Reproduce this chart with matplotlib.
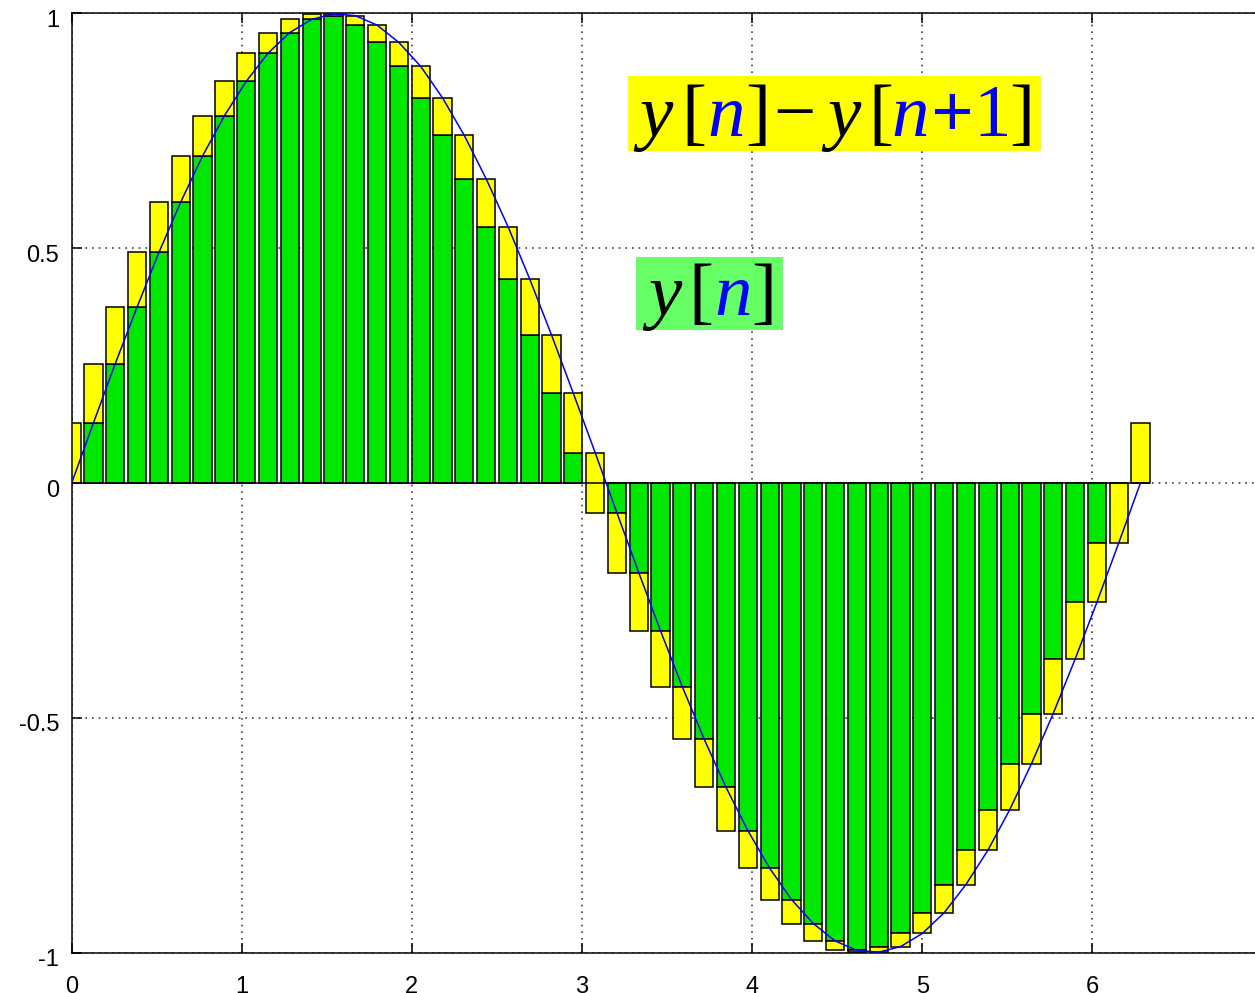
import matplotlib
matplotlib.use("Agg")
import matplotlib.pyplot as plt
from matplotlib.patches import Rectangle
from matplotlib.transforms import ScaledTranslation

# ---- data ----
x_samples = [0.000, 0.128, 0.256, 0.385, 0.513, 0.641, 0.769, 0.898, 1.026, 1.154,
             1.282, 1.411, 1.539, 1.667, 1.795, 1.923, 2.052, 2.180, 2.308, 2.436,
             2.565, 2.693, 2.821, 2.949, 3.078, 3.206, 3.334, 3.462, 3.590, 3.719,
             3.847, 3.975, 4.103, 4.232, 4.360, 4.488, 4.616, 4.744, 4.873, 5.001,
             5.129, 5.257, 5.386, 5.514, 5.642, 5.770, 5.899, 6.027, 6.155, 6.283]
# y[n] for n = 0..50 (last one is y[n+1] of the final sample)
y_samples = [0.000, 0.128, 0.254, 0.375, 0.491, 0.598, 0.696, 0.782, 0.855, 0.915,
             0.959, 0.987, 0.999, 0.995, 0.975, 0.938, 0.887, 0.820, 0.740, 0.648,
             0.546, 0.434, 0.315, 0.191, 0.064, -0.064, -0.191, -0.315, -0.434, -0.546,
             -0.648, -0.740, -0.820, -0.887, -0.938, -0.975, -0.995, -0.999, -0.987, -0.959,
             -0.915, -0.855, -0.782, -0.696, -0.598, -0.491, -0.375, -0.254, -0.128, 0.000,
             0.128]
xticks = [0, 1, 2, 3, 4, 5, 6]
xtick_labels = ["0", "1", "2", "3", "4", "5", "6"]
yticks = [-1, -0.5, 0, 0.5, 1]
ytick_labels = ["-1", "-0.5", "0", "0.5", "1"]

# ---- derived series ----
y_now = y_samples[:-1]
y_next = y_samples[1:]
green_x, green_h = [], []
for xv, a, b in zip(x_samples, y_now, y_next):
    if a * b > 0:
        green_x.append(xv)
        green_h.append(a if abs(a) < abs(b) else b)
yellow_h = [b - a for a, b in zip(y_now, y_next)]

W, H = 1255, 993
fig = plt.figure(figsize=(W / 100, H / 100), dpi=100)
ax = fig.add_axes([71.7 / W, (H - 952.7) / H, 7 * 170.1 / W, 939.4 / H])

BAR_W = 0.107
ax.bar(green_x, green_h, width=BAR_W, color="#00e800", edgecolor="black",
       linewidth=1.1, zorder=2)
ax.bar(x_samples, yellow_h, bottom=y_now, width=BAR_W, color="#ffff00",
       edgecolor="black", linewidth=1.1, zorder=2)
ax.hlines(0, min(x_samples) - BAR_W / 2, max(x_samples) + BAR_W / 2,
          color="black", linewidth=1.1, zorder=2.5)
ax.plot(x_samples, y_now, color="blue", linewidth=1.1, zorder=3)

ax.set_xlim(0, 7)
ax.set_ylim(-1, 1)
ax.set_xticks(xticks)
ax.set_xticklabels(xtick_labels)
ax.set_yticks(yticks)
ax.set_yticklabels(ytick_labels)
ax.set_axisbelow(True)
ax.grid(True, linestyle=(0, (1, 3)), color="0.25", linewidth=1.2)
for s in ax.spines.values():
    s.set_linewidth(1.1)
    s.set_color("black")
ax.spines["right"].set_visible(False)
ax.tick_params(direction="in", length=7.5, width=1.1, top=True, right=False,
               labelsize=17)
ax.tick_params(axis="x", pad=17)
ax.tick_params(axis="y", pad=9)
for lbl in ax.get_xticklabels() + ax.get_yticklabels():
    lbl.set_family("Liberation Sans")
for lbl in ax.get_yticklabels():
    lbl.set_transform(lbl.get_transform() +
                      ScaledTranslation(0, -5 / 100, fig.dpi_scale_trans))

# ---- label boxes ----
def fbox(x0, y0, x1, y1, color):
    fig.add_artist(Rectangle((x0 / W, 1 - y1 / H), (x1 - x0) / W, (y1 - y0) / H,
                             transform=fig.transFigure, facecolor=color,
                             edgecolor="none", zorder=5))

fbox(628, 76, 1041, 151, "#ffff00")
fbox(636, 257, 783, 330, "#66ff66")

FS = 54
def glyphs(items, baseline):
    for s, xc, style, weight, col in items:
        fig.text(xc / W, 1 - baseline / H, s, ha="center", va="baseline",
                 fontsize=FS, family="Liberation Serif", style=style,
                 weight=weight, color=col, zorder=6)

glyphs([("y", 656, "italic", "normal", "black"),
        ("[", 694, "normal", "normal", "black"),
        ("n", 726, "italic", "normal", "blue"),
        ("]", 758, "normal", "normal", "black"),
        ("\u2212", 794, "normal", "normal", "black"),
        ("y", 844, "italic", "normal", "black"),
        ("[", 881, "normal", "normal", "black"),
        ("n", 910, "italic", "normal", "blue"),
        ("+", 952, "normal", "bold", "blue"),
        ("1", 992, "normal", "normal", "blue"),
        ("]", 1022, "normal", "normal", "black")], 136)

glyphs([("y", 665, "italic", "normal", "black"),
        ("[", 701, "normal", "normal", "black"),
        ("n", 733, "italic", "normal", "blue"),
        ("]", 764, "normal", "normal", "black")], 315)

fig.savefig("out.png", dpi=100)
